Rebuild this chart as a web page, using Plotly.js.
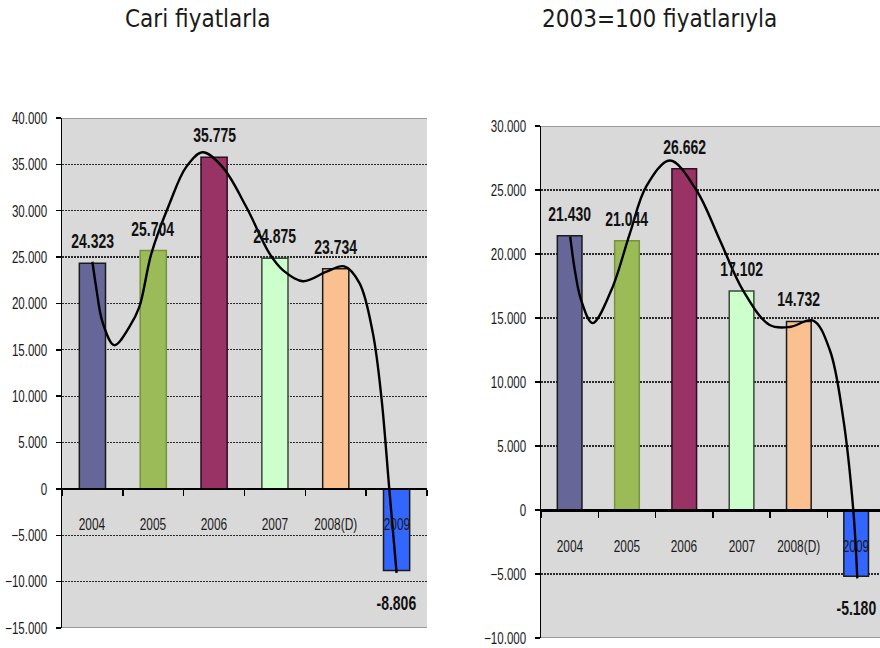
<!DOCTYPE html>
<html>
<head>
<meta charset="utf-8">
<script src="https://cdn.plot.ly/plotly-3.0.1.min.js"></script>
<style>html,body{margin:0;padding:0;background:#fff;}#chart{width:880px;height:648px;}</style>
</head>
<body>
<div id="chart"></div>
<script>
// ---- data ----
const categories = ['2004', '2005', '2006', '2007', '2008(D)', '2009'];
const cariValues = [24323, 25704, 35775, 24875, 23734, -8806];
const sabitValues = [21430, 21044, 26662, 17102, 14732, -5180];
const barColors = ['#666699', '#9BBB59', '#993366', '#CCFFCC', '#FAC090', '#3366FF'];
const barLineColors = ['#1a1a1a', '#77933C', '#2a1020', '#3a4a3a', '#1a1a1a', '#1a1a1a'];
const titles = ['Cari fiyatlarla', '2003=100 fiyatlarıyla'];
// hand-drawn trend curves (x in category units)
const cariCurveX = [0.00, 0.06, 0.17, 0.36, 0.61, 0.77, 0.97, 1.27, 1.54, 1.81, 2.14, 2.53, 2.91, 3.13, 3.46, 3.84, 4.14, 4.39, 4.61, 4.75, 4.88, 5.00];
const cariCurveY = [24500, 21800, 17900, 15500, 17500, 19600, 25400, 30800, 34700, 36300, 34700, 30400, 25400, 23600, 22400, 23400, 24000, 22200, 16800, 9900, 0, -9050];
const sabitCurveX = [0.01, 0.09, 0.20, 0.40, 0.73, 1.05, 1.34, 1.75, 2.21, 2.62, 3.02, 3.49, 3.84, 4.25, 4.54, 4.77, 4.95, 5.02];
const sabitCurveY = [21350, 18750, 16400, 14600, 17200, 21600, 25300, 27300, 25000, 21100, 17200, 14450, 14300, 14800, 12500, 7300, 0, -5340];

// ---- helpers ----
const W = 880, H = 648;
const SANS = '"Liberation Sans", Arial, sans-serif';
const SQUASH = 0.7; // the reference's chart text is horizontally condensed
const idx = categories.map((c, i) => i);
function fmt(v) {
  const s = Math.abs(v).toString().replace(/\B(?=(\d{3})+(?!\d))/g, '.');
  return (v < 0 ? '-' : '') + s;
}

const panels = [
  {values: cariValues, cx: cariCurveX, cy: cariCurveY, xd: [62 / W, 427 / W], yd: [20 / H, 530 / H], yr: [-15000, 40000], xr: [-0.5, 5.5], xa: 'x', ya: 'y'},
  {values: sabitValues, cx: sabitCurveX, cy: sabitCurveY, xd: [541 / W, 1], yd: [10 / H, 522 / H], yr: [-10000, 30000], xr: [-0.5, -0.5 + 339 / 57.3], xa: 'x2', ya: 'y2'}
];

const traces = [];
const annotations = [];
const shapes = [];
const layout = {
  width: W, height: H,
  margin: {l: 0, r: 0, t: 0, b: 0},
  paper_bgcolor: '#ffffff',
  plot_bgcolor: '#d9d9d9',
  separators: ',.',
  showlegend: false,
  bargap: 0
};

panels.forEach((p, k) => {
  traces.push({
    type: 'bar', x: idx, y: p.values, width: 0.43,
    xaxis: p.xa, yaxis: p.ya,
    marker: {color: barColors, line: {color: barLineColors, width: 1.5}},
    hoverinfo: 'skip'
  });
  traces.push({
    type: 'scatter', mode: 'lines', x: p.cx, y: p.cy,
    xaxis: p.xa, yaxis: p.ya,
    line: {color: '#000', width: 2.4, shape: 'spline', smoothing: 1},
    hoverinfo: 'skip'
  });
  const suffix = k === 0 ? '' : '2';
  const zeroPos = p.yd[0] + (p.yd[1] - p.yd[0]) * (0 - p.yr[0]) / (p.yr[1] - p.yr[0]);
  layout['xaxis' + suffix] = {
    domain: p.xd, range: p.xr, anchor: 'free', position: zeroPos,
    tickmode: 'array', tickvals: [-0.5, 0.5, 1.5, 2.5, 3.5, 4.5, 5.5],
    showticklabels: false, ticks: 'outside', ticklen: 6, tickwidth: 1.5, tickcolor: '#000',
    showline: true, linecolor: '#000', linewidth: 2.5,
    showgrid: false, zeroline: false, fixedrange: true
  };
  layout['yaxis' + suffix] = {
    domain: p.yd, range: p.yr, anchor: 'x' + suffix,
    tickmode: 'linear', tick0: 0, dtick: 5000, tickformat: ',d',
    ticks: 'outside', ticklen: 5, tickwidth: 1.5, tickcolor: '#000',
    showline: true, linecolor: '#000', linewidth: 1.5,
    showgrid: true, gridcolor: '#2a2a2a', gridwidth: 1.3, griddash: '2px,1px',
    zeroline: false, fixedrange: true,
    tickfont: {family: SANS, size: 16.5, color: '#1a1a1a'},
    ticklabelstandoff: 5
  };
  // top / bottom border of plot area
  [p.yr[0], p.yr[1]].forEach(yv => {
    shapes.push({type: 'line', xref: 'paper', yref: p.ya, x0: p.xd[0], x1: p.xd[1], y0: yv, y1: yv,
      line: {color: '#9a9a9a', width: 2}, layer: 'above'});
  });
  // category labels
  categories.forEach((c, i) => {
    annotations.push({xref: p.xa, yref: p.ya, x: i, y: 0, yshift: -36, text: c, showarrow: false,
      xanchor: 'center', yanchor: 'middle', font: {family: SANS, size: 17, color: '#1a1a1a'}});
  });
  // value labels
  p.values.forEach((v, i) => {
    annotations.push({xref: p.xa, yref: p.ya, x: i, y: v, text: '<b>' + fmt(v) + '</b>', showarrow: false,
      xanchor: 'center', yanchor: v >= 0 ? 'bottom' : 'top', yshift: v >= 0 ? 9 : -19,
      font: {family: SANS, size: 20, color: '#111'}});
  });
});

// titles
const TITLE_FONT = {family: '"DejaVu Sans Condensed", "DejaVu Sans", sans-serif', size: 24, color: '#1a1a1a'};
annotations.push({xref: 'paper', yref: 'paper', x: 197.5 / W, y: 1 - 19 / H, text: titles[0], showarrow: false,
  xanchor: 'center', yanchor: 'middle', font: TITLE_FONT});
annotations.push({xref: 'paper', yref: 'paper', x: 659.5 / W, y: 1 - 19 / H, text: titles[1], showarrow: false,
  xanchor: 'center', yanchor: 'middle', font: TITLE_FONT});

layout.annotations = annotations;
layout.shapes = shapes;

Plotly.newPlot('chart', traces, layout, {displayModeBar: false, staticPlot: true}).then(gd => {
  // condense chart texts horizontally (keeps their anchor point fixed)
  const els = gd.querySelectorAll('.ytick text, .y2tick text, .annotation-text');
  els.forEach(el => {
    if (titles.indexOf(el.textContent) !== -1) return;
    const bb = el.getBBox();
    const a = el.getAttribute('text-anchor') || 'start';
    const cx = a === 'end' ? bb.x + bb.width : (a === 'middle' ? bb.x + bb.width / 2 : bb.x);
    const prev = el.getAttribute('transform') || '';
    el.setAttribute('transform', prev + ' translate(' + cx + ',0) scale(' + SQUASH + ',1) translate(' + (-cx) + ',0)');
  });
});
</script>
</body>
</html>
